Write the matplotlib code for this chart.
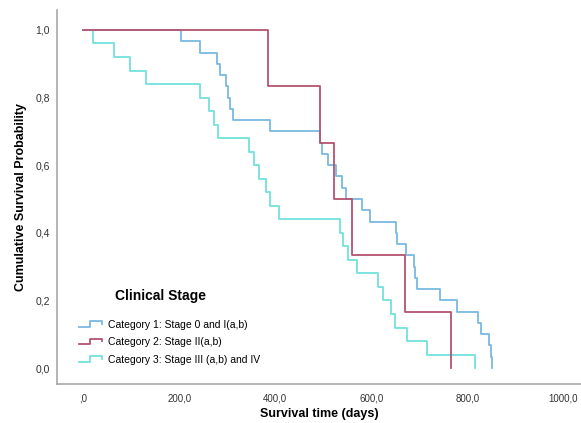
import matplotlib
matplotlib.use("Agg")
import matplotlib.pyplot as plt
from matplotlib.lines import Line2D
from matplotlib.legend_handler import HandlerBase
from matplotlib.ticker import FuncFormatter

plt.rcParams["font.family"] = ["Liberation Sans", "DejaVu Sans"]

# Kaplan-Meier step data: event times (days) and survival after each event
cat1_times = [204, 242, 279, 284, 297, 302, 306, 311, 388, 494, 498, 510, 527,
              539, 548, 581, 597, 651, 654, 672, 688, 691, 696, 743, 778, 823,
              828, 846, 849, 851]
cat1_surv = [0.967, 0.933, 0.900, 0.867, 0.833, 0.800, 0.767, 0.733, 0.700,
             0.667, 0.633, 0.600, 0.567, 0.533, 0.500, 0.467, 0.433, 0.400,
             0.367, 0.333, 0.300, 0.267, 0.233, 0.200, 0.167, 0.133, 0.100,
             0.067, 0.033, 0.0]

cat2_times = [384, 494, 522, 559, 670, 766]
cat2_surv = [0.833, 0.667, 0.500, 0.333, 0.167, 0.0]

cat3_times = [19, 64, 98, 131, 242, 261, 273, 281, 346, 356, 366, 381, 388,
              407, 534, 540, 551, 571, 614, 625, 641, 649, 674, 716, 816]
cat3_surv = [0.96, 0.92, 0.88, 0.84, 0.80, 0.76, 0.72, 0.68, 0.64, 0.60, 0.56,
             0.52, 0.48, 0.44, 0.40, 0.36, 0.32, 0.28, 0.24, 0.20, 0.16, 0.12,
             0.08, 0.04, 0.0]

labels = ["Category 1: Stage 0 and I(a,b)",
          "Category 2: Stage II(a,b)",
          "Category 3: Stage III (a,b) and IV"]
colors = ["#7ab9e2", "#b5536f", "#72e2dc"]

x_ticks = [0, 200, 400, 600, 800, 1000]
y_ticks = [0.0, 0.2, 0.4, 0.6, 0.8, 1.0]


class StepHandler(HandlerBase):
    """Legend glyph shaped like a survival step."""
    def create_artists(self, legend, orig_handle, xdescent, ydescent,
                       width, height, fontsize, trans):
        x0 = -xdescent
        y0 = -ydescent
        xs = [x0, x0 + 0.45 * width, x0 + 0.45 * width, x0 + width, x0 + width]
        ys = [y0 + 0.1 * height, y0 + 0.1 * height, y0 + 0.85 * height,
              y0 + 0.85 * height, y0 + 0.55 * height]
        line = Line2D(xs, ys, color=orig_handle.get_color(),
                      lw=orig_handle.get_linewidth(), transform=trans)
        return [line]


fig = plt.figure(figsize=(5.81, 4.23), dpi=100)
ax = fig.add_axes([0.0981, 0.0922, 0.9019, 0.8842])

handles = []
for times, surv, col, lab in zip([cat1_times, cat2_times, cat3_times],
                                 [cat1_surv, cat2_surv, cat3_surv],
                                 colors, labels):
    line, = ax.step([0] + times, [1.0] + surv, where="post",
                    color=col, lw=1.3, label=lab)
    handles.append(line)

handles[1].set_zorder(3)

ax.set_xlim(-55, 1037)
ax.set_ylim(-0.047, 1.059)
ax.set_xticks(x_ticks)
ax.set_yticks(y_ticks)

ax.xaxis.set_major_formatter(FuncFormatter(
    lambda v, p: ",0" if abs(v) < 1e-9 else f"{v:.1f}".replace(".", ",")))
ax.yaxis.set_major_formatter(FuncFormatter(
    lambda v, p: f"{v:.1f}".replace(".", ",")))

ax.tick_params(axis="both", length=0, colors="#333333")
ax.tick_params(axis="x", pad=7, labelsize=7)
ax.tick_params(axis="y", pad=5, labelsize=7.5)

for side in ["top", "right"]:
    ax.spines[side].set_visible(False)
for side in ["left", "bottom"]:
    ax.spines[side].set_color("#a8a8a8")
    ax.spines[side].set_linewidth(1.2)

ax.set_xlabel("Survival time (days)", fontsize=9, fontweight="bold",
              labelpad=3)
ax.set_ylabel("Cumulative Survival Probability", fontsize=9,
              fontweight="bold", labelpad=6)

leg = ax.legend(handles=handles, labels=labels,
                handler_map={Line2D: StepHandler()},
                loc="lower left", bbox_to_anchor=(0.025, 0.027),
                frameon=False, fontsize=7.5,
                handlelength=2.2, handletextpad=0.5, labelspacing=0.72)
ax.text(0.198, 0.235, "Clinical Stage", transform=ax.transAxes,
        ha="center", va="center", fontsize=10, fontweight="bold")

fig.savefig("out.png", dpi=100)
